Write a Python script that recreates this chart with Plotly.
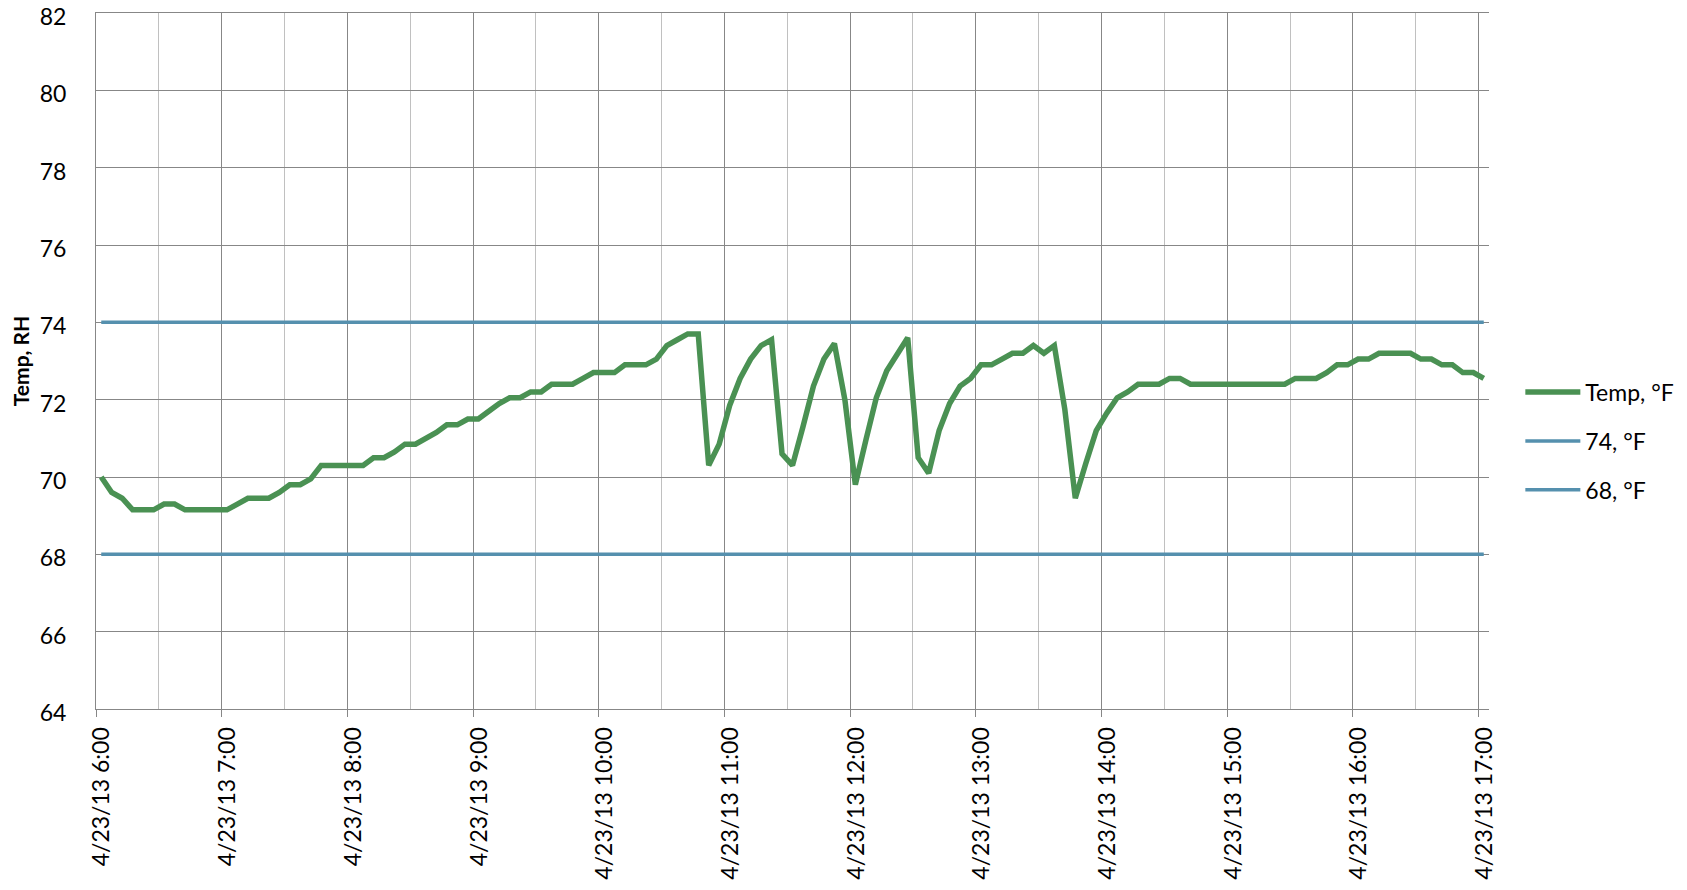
import plotly.graph_objects as go
import pandas as pd

# ---- data ----
temp_f = [
    70.0, 69.6, 69.45, 69.15, 69.15, 69.15, 69.3, 69.3, 69.15, 69.15, 69.15, 69.15,
    69.15, 69.3, 69.45, 69.45, 69.45, 69.6, 69.8, 69.8, 69.95, 70.3, 70.3, 70.3,
    70.3, 70.3, 70.5, 70.5, 70.65, 70.85, 70.85, 71.0, 71.15, 71.35, 71.35, 71.5,
    71.5, 71.7, 71.9, 72.05, 72.05, 72.2, 72.2, 72.4, 72.4, 72.4, 72.55, 72.7,
    72.7, 72.7, 72.9, 72.9, 72.9, 73.05, 73.4, 73.55, 73.7, 73.7, 70.3, 70.85,
    71.85, 72.55, 73.05, 73.4, 73.55, 70.6, 70.3, 71.3, 72.35, 73.05, 73.45, 72.0,
    69.8, 70.95, 72.05, 72.75, 73.2, 73.6, 70.5, 70.1, 71.2, 71.9, 72.35, 72.55,
    72.9, 72.9, 73.05, 73.2, 73.2, 73.4, 73.2, 73.4, 71.75, 69.45, 70.35, 71.2,
    71.65, 72.05, 72.2, 72.4, 72.4, 72.4, 72.55, 72.55, 72.4, 72.4, 72.4, 72.4,
    72.4, 72.4, 72.4, 72.4, 72.4, 72.4, 72.55, 72.55, 72.55, 72.7, 72.9, 72.9,
    73.05, 73.05, 73.2, 73.2, 73.2, 73.2, 73.05, 73.05, 72.9, 72.9, 72.7, 72.7,
    72.55,
]
upper_limit_f = 74.0
lower_limit_f = 68.0
series_names = ["Temp, °F", "74, °F", "68, °F"]
hour_labels = ["4/23/13 6:00", "4/23/13 7:00", "4/23/13 8:00", "4/23/13 9:00",
               "4/23/13 10:00", "4/23/13 11:00", "4/23/13 12:00", "4/23/13 13:00",
               "4/23/13 14:00", "4/23/13 15:00", "4/23/13 16:00", "4/23/13 17:00"]
y_ticks = [64, 66, 68, 70, 72, 74, 76, 78, 80, 82]

# 5-minute logging interval, 6:00 .. 17:00
times = pd.date_range("2013-04-23 06:00", periods=len(temp_f), freq="5min")
half = pd.Timedelta(minutes=2.5)
# category boundaries (Excel-style category axis: points centred between ticks)
hour_bounds = [t - half for t in times[::12]]
half_hour_bounds = [t - half for t in times[6::12]]
x_range = [times[0] - half, times[-1] + half]

GREEN = "#4A9153"
BLUE = "#5590AE"
DARK_GRID = "#878787"
LIGHT_GRID = "#C0C0C0"
FONT = "Lato, 'Open Sans', sans-serif"

fig = go.Figure()
fig.add_trace(go.Scatter(
    x=times, y=temp_f, mode="lines", name=series_names[0], legendgroup="a",
    line=dict(color=GREEN, width=5.5),
))
fig.add_trace(go.Scatter(
    x=times, y=[upper_limit_f] * len(times), mode="lines", name=series_names[1],
    legendgroup="b", line=dict(color=BLUE, width=3.5),
))
fig.add_trace(go.Scatter(
    x=times, y=[lower_limit_f] * len(times), mode="lines", name=series_names[2],
    legendgroup="c", line=dict(color=BLUE, width=3.5),
))

# the page body has an 8px margin, so the figure is 16px smaller than the window
fig.update_layout(
    width=1671, height=874,
    margin=dict(l=88, r=190, t=5, b=173, autoexpand=False),
    paper_bgcolor="white", plot_bgcolor="white",
    font=dict(family=FONT, size=23, color="black"),
    showlegend=True,
    legend=dict(
        x=1.0225, xanchor="left", y=0.385, yanchor="middle",
        font=dict(size=23, color="black"), tracegroupgap=16,
        itemwidth=55, bgcolor="rgba(0,0,0,0)",
    ),
    xaxis=dict(
        type="date", range=x_range,
        tickmode="array", tickvals=hour_bounds, ticktext=hour_labels,
        tickangle=-90, ticklabelshift=6, ticklabelstandoff=1,
        ticks="outside", ticklen=7, tickcolor=DARK_GRID, tickwidth=1,
        showgrid=True, gridcolor=DARK_GRID, gridwidth=1,
        minor=dict(tickmode="array", tickvals=half_hour_bounds,
                   showgrid=True, gridcolor=LIGHT_GRID, gridwidth=1, ticks=""),
        showline=True, mirror=True, linecolor=DARK_GRID, linewidth=1,
        zeroline=False, automargin=False,
        tickfont=dict(family=FONT, size=23, color="black"),
    ),
    yaxis=dict(
        range=[64, 82], tickmode="array", tickvals=y_ticks,
        ticks="", ticklabelstandoff=24, ticklabelshift=4,
        ticklabeloverflow="allow",
        showgrid=True, gridcolor=DARK_GRID, gridwidth=1,
        showline=True, linecolor=DARK_GRID, linewidth=1,
        zeroline=False, automargin=False,
        tickfont=dict(family=FONT, size=23, color="black"),
        title=dict(text="<b>Temp, RH</b>", standoff=12,
                   font=dict(family=FONT, size=21, color="black")),
    ),
)

fig.write_html("out.html")
